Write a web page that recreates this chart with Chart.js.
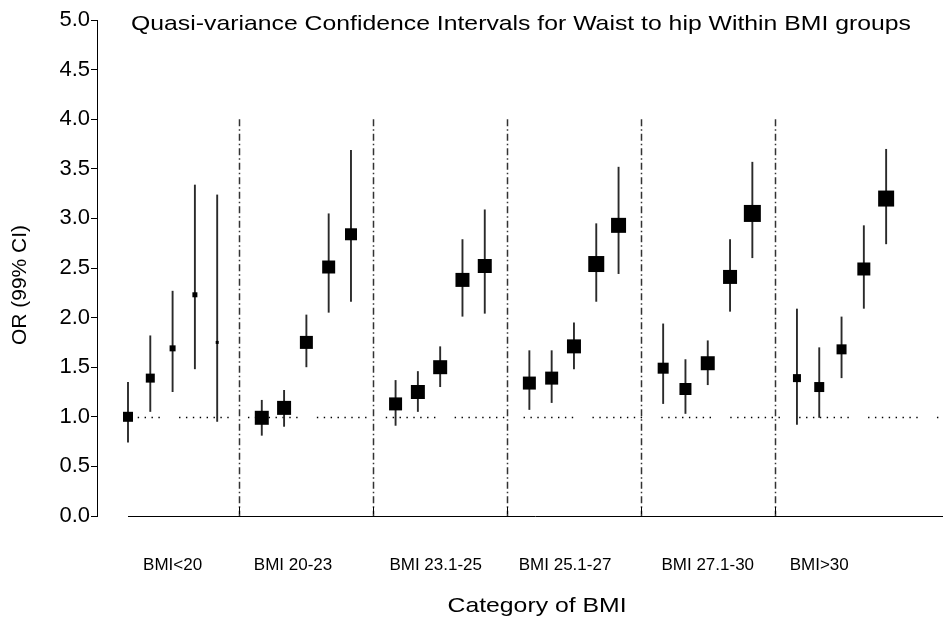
<!DOCTYPE html>
<html>
<head>
<meta charset="utf-8">
<script src="https://cdn.jsdelivr.net/npm/chart.js@4/dist/chart.umd.min.js"></script>
<style>
  html, body { margin: 0; padding: 0; background: #fff; overflow: hidden; }
  canvas { display: block; }
</style>
</head>
<body>
<canvas id="qvChart" width="943" height="624"></canvas>
<script>
// ========== DATA ==========
const groups = ["BMI<20", "BMI 20-23", "BMI 23.1-25", "BMI 25.1-27", "BMI 27.1-30", "BMI>30"];

// odds ratio per waist-to-hip level (5 levels in each BMI group)
const oddsRatio = [
  [1.00, 1.39, 1.69, 2.23, 1.75],
  [0.99, 1.09, 1.75, 2.51, 2.84],
  [1.13, 1.25, 1.50, 2.38, 2.52],
  [1.34, 1.39, 1.71, 2.54, 2.93],
  [1.49, 1.28, 1.54, 2.41, 3.05],
  [1.39, 1.30, 1.68, 2.49, 3.20],
];
const ciLower = [
  [0.74, 1.05, 1.25, 1.48, 0.95],
  [0.81, 0.90, 1.50, 2.05, 2.16],
  [0.91, 1.05, 1.30, 2.01, 2.04],
  [1.07, 1.14, 1.48, 2.16, 2.44],
  [1.13, 1.03, 1.32, 2.06, 2.60],
  [0.92, 0.99, 1.39, 2.09, 2.74],
];
const ciUpper = [
  [1.35, 1.82, 2.27, 3.34, 3.24],
  [1.17, 1.27, 2.03, 3.05, 3.69],
  [1.37, 1.46, 1.71, 2.79, 3.09],
  [1.67, 1.67, 1.95, 2.95, 3.52],
  [1.94, 1.58, 1.77, 2.79, 3.57],
  [2.09, 1.70, 2.01, 2.93, 3.70],
];
// relative precision of each estimate (shown as box size)
const boxWeight = [
  [10, 9, 6, 5, 3],
  [14, 14, 13, 13, 12],
  [13, 14, 14, 14, 14],
  [13, 13, 14, 16, 15],
  [11, 12, 14, 14, 17],
  [8, 10, 10, 13, 16],
];
const yTicks = [0, 0.5, 1, 1.5, 2, 2.5, 3, 3.5, 4, 4.5, 5];
const refOR = 1;

// ========== LAYOUT HELPERS ==========
const SLOT = 6;                 // 5 levels + 1 gap per group
const groupLabelAt = [2.0, 7.4, 13.8, 19.6, 26.0, 31.0];
const FONT = "'Liberation Sans', Arial, sans-serif";

const points = [];
const weights = [];
oddsRatio.forEach((row, g) => {
  row.forEach((v, k) => {
    points.push({ x: g * SLOT + k, y: v, lo: ciLower[g][k], hi: ciUpper[g][k] });
    weights.push(boxWeight[g][k]);
  });
});

function drawStretched(ctx, text, cx, cy, size, sx) {
  ctx.save();
  ctx.translate(cx, cy);
  ctx.scale(sx, 1);
  ctx.font = `${size}px ${FONT}`;
  ctx.textAlign = "center";
  ctx.textBaseline = "middle";
  ctx.fillStyle = "#000";
  ctx.fillText(text, 0, 0);
  ctx.restore();
}

const decorPlugin = {
  id: "decor",
  beforeDatasetsDraw(chart) {
    const { ctx, chartArea: area } = chart;
    const { x, y } = chart.scales;
    const y0 = y.getPixelForValue(0);
    ctx.save();

    // group separators (dash-dot) + small ticks on the axis
    ctx.strokeStyle = "#333";
    ctx.lineWidth = 1.5;
    ctx.setLineDash([7, 3, 1.5, 3]);
    for (let g = 1; g < groups.length; g++) {
      const px = Math.round(x.getPixelForValue(g * SLOT - 1)) + 0.5;
      ctx.beginPath();
      ctx.moveTo(px, y.getPixelForValue(4));
      ctx.lineTo(px, y0);
      ctx.stroke();
    }
    ctx.setLineDash([]);
    ctx.strokeStyle = "#000";
    ctx.lineWidth = 1;
    for (let g = 1; g < groups.length; g++) {
      const px = Math.round(x.getPixelForValue(g * SLOT - 1)) + 0.5;
      ctx.beginPath();
      ctx.moveTo(px, y0 - 2);
      ctx.lineTo(px, y0 - 9);
      ctx.stroke();
    }

    // x axis line (starts at the first level, not at the y axis)
    ctx.beginPath();
    ctx.moveTo(x.getPixelForValue(0), Math.round(y0) + 0.5);
    ctx.lineTo(area.right, Math.round(y0) + 0.5);
    ctx.stroke();

    // reference line OR = 1 (runs of dots)
    const gap = 6.89;
    const dotPattern = [];
    for (let i = 0; i < 7; i++) dotPattern.push(1.4, gap - 1.4);
    dotPattern.push(1.4, gap * 3 - 1.4);
    const xs = x.getPixelForValue(-0.3);
    const xp = x.getPixelForValue(-0.8);
    const yr = Math.round(y.getPixelForValue(refOR)) + 0.5;
    ctx.setLineDash(dotPattern);
    ctx.lineDashOffset = xs - xp;
    ctx.lineWidth = 1.6;
    ctx.strokeStyle = "#000";
    ctx.beginPath();
    ctx.moveTo(xs, yr);
    ctx.lineTo(area.right, yr);
    ctx.stroke();
    ctx.setLineDash([]);

    // confidence intervals
    ctx.strokeStyle = "#2a2a2a";
    ctx.lineWidth = 1.9;
    points.forEach((p) => {
      const px = x.getPixelForValue(p.x);
      ctx.beginPath();
      ctx.moveTo(px, y.getPixelForValue(p.lo));
      ctx.lineTo(px, y.getPixelForValue(p.hi));
      ctx.stroke();
    });
    ctx.restore();
  },
  afterDraw(chart) {
    const { ctx } = chart;
    const { x } = chart.scales;

    // group labels under the axis
    ctx.save();
    ctx.font = `17px ${FONT}`;
    ctx.textAlign = "center";
    ctx.textBaseline = "middle";
    ctx.fillStyle = "#000";
    groups.forEach((name, i) => {
      ctx.fillText(name, x.getPixelForValue(groupLabelAt[i]), 565);
    });
    ctx.restore();

    drawStretched(ctx, "Quasi-variance Confidence Intervals for Waist to hip Within BMI groups", 521, 24, 21, 1.18);
    drawStretched(ctx, "Category of BMI", 537, 606, 21, 1.18);
    ctx.save();
    ctx.translate(20, 285);
    ctx.rotate(-Math.PI / 2);
    ctx.font = `21px ${FONT}`;
    ctx.textAlign = "center";
    ctx.textBaseline = "middle";
    ctx.fillStyle = "#000";
    ctx.fillText("OR (99% CI)", 0, 0);
    ctx.restore();
  },
};

const ctx = document.getElementById("qvChart").getContext("2d");
new Chart(ctx, {
  type: "scatter",
  data: {
    datasets: [
      {
        label: "OR",
        data: points,
        pointStyle: "rect",
        pointRadius: (c) => weights[c.dataIndex] / Math.SQRT2,
        pointHoverRadius: (c) => weights[c.dataIndex] / Math.SQRT2,
        pointBackgroundColor: "#000",
        pointBorderWidth: 0,
        borderWidth: 0,
      },
    ],
  },
  options: {
    responsive: false,
    animation: false,
    devicePixelRatio: 1,
    layout: { autoPadding: false, padding: { top: 20, left: 0, right: 0, bottom: 0 } },
    plugins: {
      legend: { display: false },
      tooltip: { enabled: false },
    },
    scales: {
      x: {
        type: "linear",
        min: -1.39,
        max: 36.55,
        afterFit: (s) => { s.height = 108; },
        grid: { display: false, drawTicks: false },
        border: { display: false },
        ticks: { display: false },
      },
      y: {
        type: "linear",
        min: 0,
        max: 5,
        afterFit: (s) => { s.width = 97; },
        afterBuildTicks: (s) => { s.ticks = yTicks.map((v) => ({ value: v })); },
        grid: { drawOnChartArea: false, drawTicks: true, tickLength: 6, color: "#000" },
        border: { display: true, color: "#000", width: 1 },
        ticks: {
          padding: 1,
          color: "#000",
          font: { family: FONT, size: 22 },
          callback: (v) => v.toFixed(1),
        },
      },
    },
  },
  plugins: [decorPlugin],
});
</script>
</body>
</html>
